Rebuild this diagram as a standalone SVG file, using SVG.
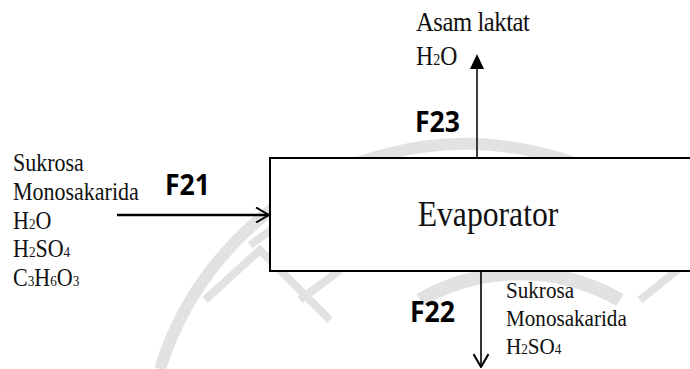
<svg xmlns="http://www.w3.org/2000/svg" width="690" height="369" viewBox="0 0 690 369">
<style>
.t{font-family:"Liberation Serif","Times New Roman",serif;font-size:25px;fill:#111}
.s{font-size:15px}
.f{font-family:"Open Sans","DejaVu Sans",sans-serif;font-weight:bold;font-size:28px;fill:#000}
.ln{stroke:#000;fill:none}
.wm{fill:none;stroke:#e2e2e2;stroke-linecap:butt}
</style>
<defs>
<marker id="open" viewBox="0 0 16 16" refX="15" refY="8" markerWidth="16" markerHeight="16" markerUnits="userSpaceOnUse" orient="auto">
<path d="M2,0.5 L15,8 L2,15.5" fill="none" stroke="#000" stroke-width="2"/>
</marker>
</defs>
<rect width="690" height="369" fill="#fff"/>
<g id="watermark">
<path class="wm" stroke-width="12" d="M160,369 A320,320 0 0 1 690,236"/>
<path class="wm" stroke-width="14" d="M420,300 A200,200 0 0 1 620,300"/>
<path class="wm" stroke-width="8" d="M205,300 L260,250 L330,320 M250,245 L300,210 M300,300 L340,270"/>
<path class="wm" stroke-width="8" d="M640,300 L690,260"/>
</g>
<g id="connectors">
<line class="ln" x1="117" y1="215" x2="269" y2="215" stroke-width="2.5" marker-end="url(#open)"/>
<line class="ln" x1="477" y1="158" x2="477" y2="68" stroke-width="1.5"/>
<polygon points="477,54 470,69 484,69" fill="#000"/>
<line class="ln" x1="481" y1="272" x2="481" y2="367" stroke-width="1.6" marker-end="url(#open)"/>
</g>
<g id="evaporator">
<rect x="270" y="158" width="430" height="113" fill="#fff" stroke="#000" stroke-width="2"/>
<text class="t" transform="translate(488,226) scale(0.88,1)" text-anchor="middle" style="font-size:36px">Evaporator</text>
</g>
<g id="feed">
<text class="t" transform="translate(13,171) scale(0.88,1)">Sukrosa</text>
<text class="t" transform="translate(13,200) scale(0.88,1)">Monosakarida</text>
<text class="t" transform="translate(13,229) scale(0.88,1)">H<tspan class="s">2</tspan>O</text>
<text class="t" transform="translate(13,257) scale(0.88,1)">H<tspan class="s">2</tspan>SO<tspan class="s">4</tspan></text>
<text class="t" transform="translate(13,286) scale(0.88,1)">C<tspan class="s">3</tspan>H<tspan class="s">6</tspan>O<tspan class="s">3</tspan></text>
<text class="f" transform="translate(165,195) scale(0.95,1)">F21</text>
</g>
<g id="top-product">
<text class="t" transform="translate(416,31) scale(0.88,1)" style="font-size:28px;letter-spacing:-0.5px">Asam laktat</text>
<text class="t" transform="translate(416,65) scale(0.88,1)" style="font-size:27px">H<tspan class="s" style="font-size:16px">2</tspan>O</text>
<text class="f" transform="translate(415,132) scale(0.95,1)">F23</text>
</g>
<g id="bottom-product">
<text class="t" transform="translate(506,298) scale(0.88,1)" style="font-size:24px">Sukrosa</text>
<text class="t" transform="translate(506,326) scale(0.88,1)" style="font-size:24px">Monosakarida</text>
<text class="t" transform="translate(506,354) scale(0.88,1)" style="font-size:24px">H<tspan class="s">2</tspan>SO<tspan class="s">4</tspan></text>
<text class="f" transform="translate(410,322) scale(0.95,1)">F22</text>
</g>
</svg>
